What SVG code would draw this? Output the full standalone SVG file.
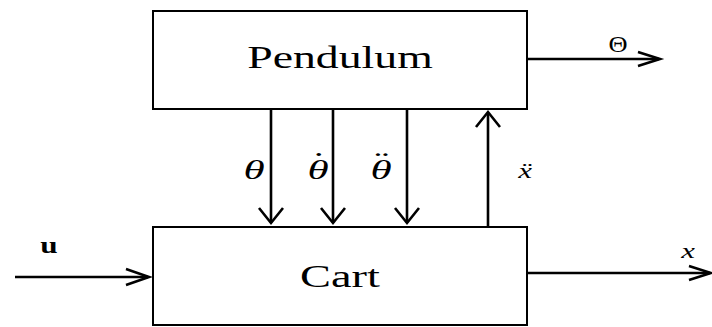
<svg xmlns="http://www.w3.org/2000/svg" width="712" height="327" viewBox="0 0 712 327">
<style>
.box{fill:#fff;stroke:#000;stroke-width:2}
.ln{fill:none;stroke:#000;stroke-width:2.6}
.t{font-family:'Liberation Serif','Times New Roman',serif;fill:#000}
.big{font-size:32px;text-anchor:middle}
.it{font-style:italic;text-anchor:middle}
</style>
<g id="pendulum">
<rect class="box" x="153" y="11" width="374" height="98"/>
<text class="t big" transform="translate(340 68) scale(1.43 1)">Pendulum</text>
</g>
<g id="cart">
<rect class="box" x="153" y="227" width="374" height="98"/>
<text class="t big" transform="translate(340 287) scale(1.45 1)">Cart</text>
</g>
<g id="connectors">
<path class="ln" d="M271 109V223M333 109V223M407 109V223M488 227V113M527 59H659M15 277H148M527 273H710"/>
<path class="ln" d="M259 208L271 223L283 208M321 208L333 223L345 208M395 208L407 223L419 208M476 127L488 112L500 127M638 52L660 59L638 66M126 269L149 277L126 285M689 266L711 273L689 280"/>
</g>
<g id="labels">
<text class="t it" font-size="27" transform="translate(254 179) scale(1.6 1)">θ</text>
<text class="t it" font-size="27" transform="translate(318 179) scale(1.6 1)"><tspan x="0" y="0">θ</tspan><tspan x="0.5" y="-8" font-style="normal">˙</tspan></text>
<text class="t it" font-size="27" transform="translate(381 179) scale(1.6 1)"><tspan x="0" y="0">θ</tspan><tspan x="0.5" y="-8" font-style="normal">¨</tspan></text>
<text class="t it" font-size="22" transform="translate(525 178) scale(1.4 1)">ẍ</text>
<text class="t" font-size="24" text-anchor="middle" transform="translate(618 52) scale(1.1 1)">Θ</text>
<text class="t" font-size="24" text-anchor="middle" font-weight="bold" transform="translate(49 253) scale(1.3 1)">u</text>
<text class="t it" font-size="22" transform="translate(688 258) scale(1.4 1)">x</text>
</g>
</svg>
